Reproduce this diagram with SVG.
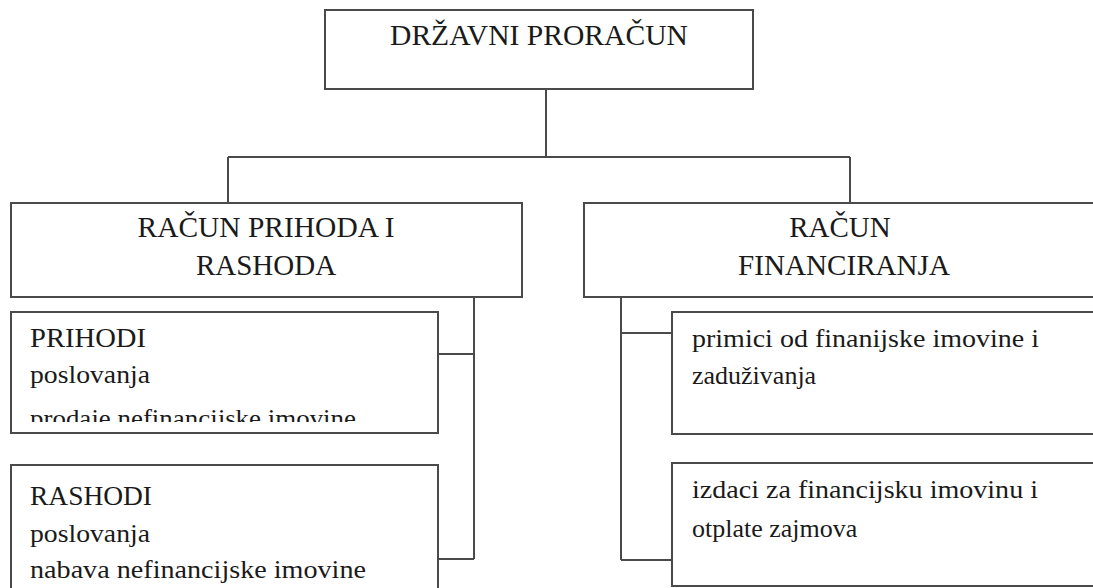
<svg xmlns="http://www.w3.org/2000/svg" width="1093" height="588" viewBox="0 0 1093 588">
<style>
.box{fill:#fff;stroke:#4a4a4a;stroke-width:2}
.ln{fill:none;stroke:#4a4a4a;stroke-width:2}
.t{font-family:"Liberation Serif","Times New Roman",serif;fill:#1a1a1a}
.h{font-size:29px;text-anchor:middle}
.c{font-size:28px}
.s{font-size:26px}
</style>
<defs>
<clipPath id="clipPr"><rect x="12" y="300" width="425" height="122"/></clipPath>
</defs>
<rect width="1093" height="588" fill="#fff"/>
<g id="connectors">
<path class="ln" d="M546 89V157M228 157H850M228 157V203M850 157V203"/>
<path class="ln" d="M474 297V559M438 354H474M438 559H474"/>
<path class="ln" d="M621 297V560M621 333H672M621 560H672"/>
</g>
<g id="drzavni">
<rect class="box" x="325" y="10" width="428" height="79"/>
<text class="t h" x="539" y="45" textLength="298" lengthAdjust="spacingAndGlyphs">DRŽAVNI PRORAČUN</text>
</g>
<g id="racun-prihoda">
<rect class="box" x="11" y="203" width="511" height="94"/>
<text class="t h" x="266" y="237" textLength="257" lengthAdjust="spacingAndGlyphs">RAČUN PRIHODA I</text>
<text class="t h" x="266" y="275">RASHODA</text>
</g>
<g id="racun-financiranja">
<rect class="box" x="584" y="203" width="530" height="94"/>
<text class="t h" x="840" y="237">RAČUN</text>
<text class="t h" x="844" y="275" textLength="212" lengthAdjust="spacingAndGlyphs">FINANCIRANJA</text>
</g>
<g id="prihodi">
<rect class="box" x="11" y="312" width="427" height="121"/>
<text class="t c" x="30" y="347" textLength="116" lengthAdjust="spacingAndGlyphs">PRIHODI</text>
<text class="t s" x="30" y="383" textLength="120" lengthAdjust="spacingAndGlyphs">poslovanja</text>
<text class="t s" x="30" y="427" clip-path="url(#clipPr)" textLength="326" lengthAdjust="spacingAndGlyphs">prodaje nefinancijske imovine</text>
</g>
<g id="rashodi">
<rect class="box" x="11" y="465" width="427" height="140"/>
<text class="t c" x="30" y="505" textLength="122" lengthAdjust="spacingAndGlyphs">RASHODI</text>
<text class="t s" x="30" y="542" textLength="120" lengthAdjust="spacingAndGlyphs">poslovanja</text>
<text class="t s" x="30" y="578" textLength="336" lengthAdjust="spacingAndGlyphs">nabava nefinancijske imovine</text>
</g>
<g id="primici">
<rect class="box" x="672" y="312" width="440" height="122"/>
<text class="t s" x="692" y="347" textLength="347" lengthAdjust="spacingAndGlyphs">primici od finanijske imovine i</text>
<text class="t s" x="692" y="384">zaduživanja</text>
</g>
<g id="izdaci">
<rect class="box" x="672" y="463" width="440" height="123"/>
<text class="t s" x="692" y="498" textLength="346" lengthAdjust="spacingAndGlyphs">izdaci za financijsku imovinu i</text>
<text class="t s" x="692" y="537">otplate zajmova</text>
</g>
</svg>
